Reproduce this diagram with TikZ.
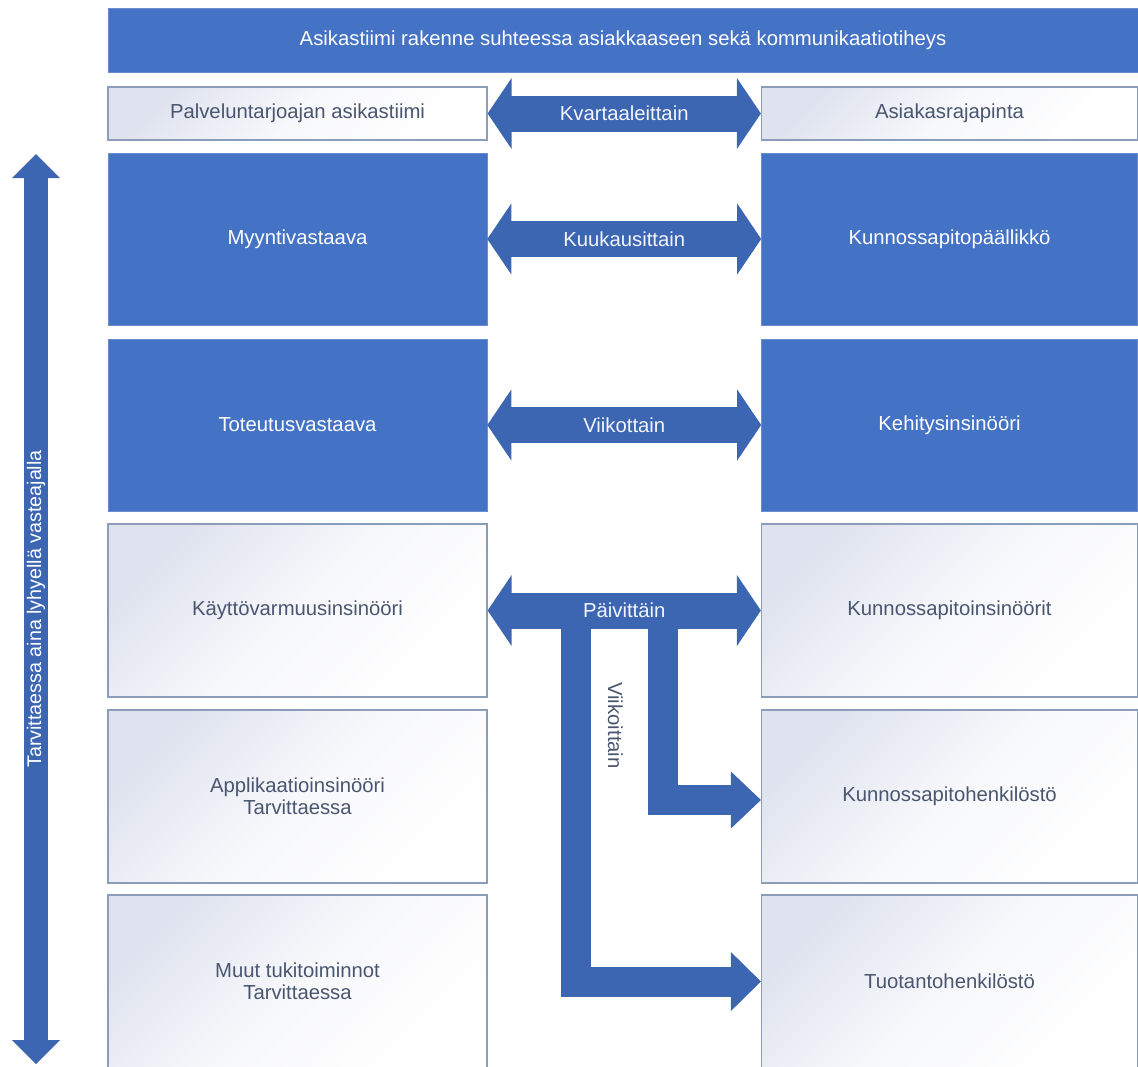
\documentclass[tikz,border=0pt]{standalone}
\usepackage{fontspec}
\setmainfont{Liberation Sans}
\usetikzlibrary{calc}

\definecolor{boxblue}{HTML}{4472C4}
\definecolor{arrowblue}{HTML}{3D66B2}
\definecolor{edgegray}{HTML}{8C9DBA}
\definecolor{tint}{HTML}{DFE3EF}
\definecolor{slate}{HTML}{4A5670}
\definecolor{paletext}{HTML}{F2F5FB}

% horizontal two-headed arrow between two nodes, with a label on its shaft
\newcommand{\pairlink}[3]{%
  \draw[arrowblue, line width=36pt] ($(#1.east)+(23,0)$) -- ($(#2.west)+(-23,0)$);
  \fill[arrowblue] (#1.east) -- ($(#1.east)+(24,-35.5)$) -- ($(#1.east)+(24,35.5)$) -- cycle;
  \fill[arrowblue] (#2.west) -- ($(#2.west)+(-24,-35.5)$) -- ($(#2.west)+(-24,35.5)$) -- cycle;
  \node[linklabel] (#1-#2) at ($(#1.east)!0.5!(#2.west)$) {#3};
}

\begin{document}
\begin{tikzpicture}[x=1pt, y=-1pt,
  every node/.style={font=\fontsize{20.3}{22}\selectfont, inner sep=0pt, align=center},
  solidbox/.style={rectangle, fill=boxblue, draw=boxblue!80!white, line width=0.6pt, text=white},
  palebox/.style={rectangle, draw=edgegray, line width=1.2pt, top color=tint, bottom color=white,
                  middle color=tint!25!white, shading angle=45, text=slate},
  leftcol/.style={minimum width=379pt},
  rightcol/.style={minimum width=376pt},
  tall/.style={minimum height=173pt},
  flat/.style={minimum height=53pt},
  linklabel/.style={text=paletext},
  sidelabel/.style={text=slate}
]
\useasboundingbox (0,0) rectangle (1138,1066);
\clip (0,0) rectangle (1138,1066);

% heading bar
\node[solidbox, minimum width=1030pt, minimum height=64pt] (head) at (623,40)
  {Asikastiimi rakenne suhteessa asiakkaaseen sekä kommunikaatiotiheys};

% provider side
\node[palebox, leftcol, flat] (L1) at (297.5,113.5) {Palveluntarjoajan asikastiimi};
\node[solidbox, leftcol, minimum height=172pt] (L2) at (297.5,239) {Myyntivastaava};
\node[solidbox, leftcol, minimum height=172pt] (L3) at (297.5,425) {Toteutusvastaava};
\node[palebox, leftcol, tall] (L4) at (297.5,610.5) {Käyttövarmuusinsinööri};
\node[palebox, leftcol, tall] (L5) at (297.5,796.5) {Applikaatioinsinööri\\Tarvittaessa};
\node[palebox, leftcol, tall] (L6) at (297.5,981.5) {Muut tukitoiminnot\\Tarvittaessa};

% customer side
\node[palebox, rightcol, flat] (R1) at (949.5,113.5) {Asiakasrajapinta};
\node[solidbox, rightcol, minimum height=172pt] (R2) at (949.5,239) {Kunnossapitopäällikkö};
\node[solidbox, rightcol, minimum height=172pt] (R3) at (949.5,425) {Kehitysinsinööri};
\node[palebox, rightcol, tall] (R4) at (949.5,610.5) {Kunnossapitoinsinöörit};
\node[palebox, rightcol, tall] (R5) at (949.5,796.5) {Kunnossapitohenkilöstö};
\node[palebox, rightcol, tall] (R6) at (949.5,981.5) {Tuotantohenkilöstö};

% daily branches towards the lower customer roles
\coordinate (hub) at ($(L4.east)!0.5!(R4.west)$);
\draw[arrowblue, line width=30pt, line join=miter]
  ($(hub)+(38.5,0)$) |- ($(R5.west)+(-29,3.5)$);
\fill[arrowblue] ($(R5.west)+(0,3.5)$) -- ++(-30,-28.5) -- ++(0,57) -- cycle;
\draw[arrowblue, line width=30pt, line join=miter]
  ($(hub)+(-48,0)$) |- ($(R6.west)+(-29,0)$);
\fill[arrowblue] (R6.west) -- ++(-30,-29.5) -- ++(0,59) -- cycle;
\node[sidelabel, rotate=-90] (weekly) at ($(hub)+(-9,115)$) {Viikoittain};

% meeting frequencies
\pairlink{L1}{R1}{Kvartaaleittain}
\pairlink{L2}{R2}{Kuukausittain}
\pairlink{L3}{R3}{Viikottain}
\pairlink{L4}{R4}{Päivittäin}

% response-time arrow along the left edge
\coordinate (vtop) at (36,154);
\coordinate (vbot) at (36,1064);
\draw[arrowblue, line width=24pt] ($(vtop)+(0,23)$) -- ($(vbot)+(0,-23)$);
\fill[arrowblue] (vtop) -- ++(-24,24) -- ++(48,0) -- cycle;
\fill[arrowblue] (vbot) -- ++(-24,-24) -- ++(48,0) -- cycle;
\node[text=white, rotate=90, font=\fontsize{19.7}{22}\selectfont] (resp) at ($(vtop)!0.5!(vbot)$)
  {Tarvittaessa aina lyhyellä vasteajalla};
\end{tikzpicture}
\end{document}
